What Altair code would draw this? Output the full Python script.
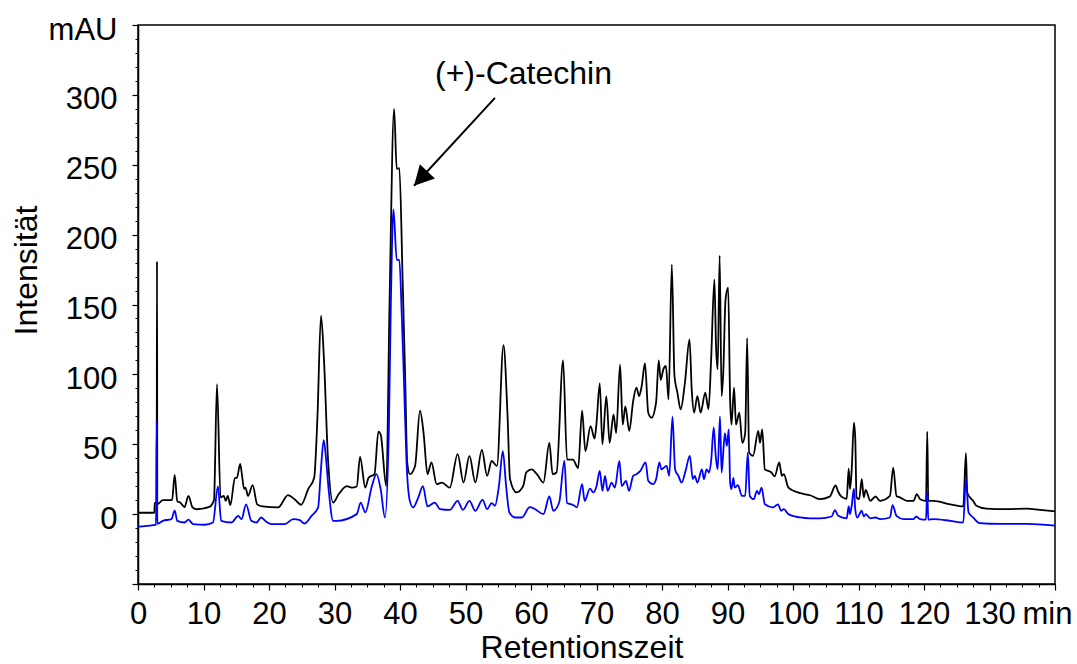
import altair as alt
import pandas as pd

# Chromatogram traces: retention time (min) and detector signal (mAU)
black_time = [
    0, 2.5, 2.55, 2.85, 2.9, 2.95, 3.8, 5.2, 5.6, 6.0, 6.4, 7.1, 7.7, 8.3, 8.9,
    10.9, 11.6, 12.06, 12.6, 13.1, 13.4, 13.7, 14.1, 14.8, 15.1, 15.6, 15.9,
    16.2, 16.4, 16.8, 17.5, 18.2, 19.0, 21.4, 22.9, 23.9, 24.9, 26.0, 26.9,
    27.4, 27.94, 28.4, 29.0, 29.8, 30.6, 31.9, 32.6, 33.4, 33.9, 34.7, 35.2,
    36.1, 36.7, 37.05, 37.9, 38.4, 39.1, 39.5, 39.9, 40.4, 40.8, 41.1, 41.5,
    42.3, 43.05, 43.6, 44.2, 44.8, 45.6, 46.4, 47.6, 48.8, 49.7, 50.6, 51.5,
    52.5, 53.3, 54.0, 54.8, 55.8, 56.4, 56.8, 57.8, 58.8, 59.3, 60.1, 60.9,
    61.9, 62.8, 63.3, 63.9, 64.9, 65.5, 66.4, 67.2, 67.8, 68.3, 69.1, 69.7,
    70.0, 70.5, 70.9, 71.5, 72.0, 72.6, 73.0, 73.6, 74.0, 74.4, 75.0, 75.6,
    76.1, 76.5, 76.9, 77.4, 77.9, 78.4, 79.1, 79.5, 79.8, 80.2, 80.6, 81.0,
    81.5, 81.9, 82.35, 82.85, 83.5, 84.2, 84.55, 84.9, 85.4, 85.9, 86.6, 87.1,
    87.5, 88.0, 88.25, 88.5, 88.8, 89.1, 89.35, 89.7, 90.1, 90.4, 90.6, 91.0,
    91.3, 91.8, 92.26, 92.7, 93.0, 93.3, 93.9, 94.7, 94.96, 95.3, 95.7, 96.7,
    97.2, 97.9, 98.3, 98.6, 99.3, 101.1, 102.6, 104.1, 105.6, 106.5, 106.9,
    107.4, 108.2, 108.5, 108.7, 108.96, 109.3, 109.5, 109.7, 110.1, 110.5,
    110.8, 111.1, 111.8, 112.6, 113.3, 114.8, 115.3, 115.8, 116.3, 117.4,
    118.4, 118.9, 119.4, 120.3, 120.5, 120.65, 121.4, 124.0, 126.0, 126.4,
    126.6, 127.0, 127.5, 128.0, 129.5, 132.6, 135.7, 137.7, 140,
]
black_mau = [
    1, 1, 8, 8, 181, 7, 10, 10, 28, 9, 8.5, 5, 13, 5, 3.5,
    5.2, 10, 93, 12, 13, 9.5, 13, 6.4, 26, 26, 36, 27,
    18, 19, 13, 20.7, 7, 5.5, 4.8, 13.6, 10.7, 6.7, 18, 26,
    70, 142, 110, 40, 8.3, 14, 20, 19, 19.8, 41, 19, 26,
    28.6, 59, 57, 20, 150, 290, 247, 247.6, 168, 96, 37, 28.6,
    34.5, 74, 58, 28.6, 37, 21.4, 22.6, 19, 43, 22.6, 41.7, 22.6,
    46, 27.4, 38, 34.5, 121, 72.6, 25, 15.5, 20, 30, 32, 28.6,
    22.6, 51, 28.6, 29.8, 110, 39, 39, 33, 74, 45, 63, 54,
    65, 93.6, 50, 84.5, 51, 71.4, 58, 107, 64, 77, 59.5, 81,
    90.5, 84.5, 91.7, 108, 72.6, 69, 80, 110, 96, 103.6, 106, 82,
    178.6, 99, 87, 75, 94, 125, 88, 72.6, 84.5, 72.6, 87, 75,
    110.7, 168, 120, 103.6, 185, 84.5, 101, 153.6, 162, 82, 64, 90.5,
    64, 72.6, 51, 58, 126, 44, 41.7, 59.5, 51, 60.7, 32, 29.8,
    27, 37, 27.4, 28.6, 19, 15, 13.5, 10.7, 12.5, 20.5, 16,
    12.5, 11, 32.6, 17.9, 31.7, 65.5, 54.8, 12, 10.7, 25,
    12, 17.4, 9.5, 12.6, 9.5, 13, 33.3, 13, 12, 9.5,
    9.5, 14.3, 10.7, 9.5, 59, 9.5, 9.5, 7, 5.5, 43.6,
    15.5, 12, 9.5, 6, 4, 3.6, 4, 3, 2,
]

blue_time = [
    0, 2.3, 2.75, 2.85, 2.95, 3.8, 5.1, 5.6, 6.0, 7.1, 7.7, 8.4, 10.2, 11.45,
    12.2, 12.7, 14.25, 15.3, 15.8, 16.5, 17.3, 18.1, 18.8, 19.6, 20.4, 22.4,
    23.7, 24.7, 25.4, 26.5, 27.5, 27.9, 28.35, 28.7, 29.1, 29.8, 30.3, 33.4,
    34.0, 34.7, 35.7, 36.4, 37.05, 37.7, 38.3, 38.6, 39.0, 39.5, 39.9, 40.26,
    40.6, 41.0, 41.5, 42.0, 42.8, 43.5, 44.2, 45.3, 46.1, 47.6, 48.8, 49.6,
    50.6, 51.5, 52.6, 53.3, 54.0, 54.5, 55.1, 55.7, 56.2, 56.7, 57.6, 58.6,
    59.8, 60.6, 61.9, 62.8, 63.4, 64.3, 65.1, 65.5, 66.5, 67.0, 67.8, 68.2,
    69.0, 69.5, 70.0, 70.5, 70.9, 71.3, 71.7, 72.3, 72.8, 73.5, 73.85, 74.5,
    74.96, 75.6, 76.1, 76.7, 77.5, 77.9, 78.6, 79.1, 79.6, 79.9, 80.7, 81.1,
    81.6, 82.0, 82.5, 83.0, 83.6, 84.25, 84.7, 85.0, 85.4, 86.1, 86.4, 86.8,
    87.2, 87.5, 87.9, 88.2, 88.5, 88.85, 89.1, 89.35, 89.6, 89.9, 90.2, 90.4,
    90.6, 90.9, 91.1, 91.6, 92.2, 92.7, 93.1, 93.4, 94.0, 94.5, 94.8, 95.2,
    95.7, 96.95, 97.7, 98.2, 98.6, 99.3, 101.1, 102.6, 104.1, 105.9, 106.4,
    106.9, 108.2, 108.5, 108.7, 108.96, 109.3, 109.5, 109.8, 110.5, 110.8,
    111.1, 111.8, 112.6, 113.3, 114.8, 115.2, 115.8, 116.9, 118.4, 118.8,
    119.4, 120.3, 120.5, 120.65, 121.4, 124.0, 126.0, 126.4, 126.8, 127.5,
    128.5, 131.6, 135.7, 140,
]
blue_mau = [
    -9, -7.9, -7.5, 67, -7, -4.8, -3.6, 2.4, -4.8, -6, -4, -7.1, -7.6, -6,
    19.8, -4.8, -6, -1.2, -3.6, 7, -4.8, -6, -2.4, -5.5, -7.1, -7.1,
    -3.6, -4.3, -6.7, -1.2, 4.8, 30, 53, 40, 17.9, -4.8, -4.8, 0,
    8.3, 1.2, 20, 28.6, 17.9, -2.4, 60, 150, 218, 182, 182, 144,
    96, 37, 9.5, 4.8, 12, 20, 5.5, 8.3, 3.6, 3, 9.5, 3,
    9.5, 2.4, 10.2, 3.6, 7.9, 6, 20, 45, 20, 1.2, -2.4, -2.4,
    5, 3.6, 0, 12.6, 2.4, 8.3, 38, 7.9, 6.4, 4.8, 21.4, 9.5,
    18.3, 15.5, 20, 31, 16.7, 27.4, 16.7, 22.6, 19, 38, 20, 23.8,
    16.7, 27.4, 28.6, 31, 37, 23.8, 21.4, 25, 37, 32, 34.5, 27.4,
    69.8, 32, 27.4, 22.6, 31, 41.7, 25, 27.4, 22.6, 32, 25, 32,
    29.8, 38, 62, 41.7, 32, 70, 29.8, 44, 58, 48.8, 60.7, 22.6,
    17.9, 26, 19, 20.7, 13, 13, 44, 13, 10.7, 16.7, 14.3, 19,
    7, 4.8, 7, 2.4, 3.6, 0, -2.4, -3, -3, -1.7, 2.9,
    -1.2, -3, 5.5, 0, 6, 18.3, 3.6, -2.4, 2.4, -1.7,
    0, -3, -2.4, -3.6, -2.4, 6.4, -1.2, -3.6, -3.6, -1.7,
    -3.6, -4, 16.7, -4, -3.6, -4.8, -6, 26, 1.2, -2.4,
    -6.4, -7, -7, -8.3,
]

# Axis ticks
x_major = list(range(0, 141, 10))
x_minor = [i * 2.5 for i in range(57)]
y_major = list(range(-50, 351, 50))
y_minor = list(range(-50, 351, 10))
x_domain = [0, 140]
y_domain = [-50, 350]

# Peak annotation
peak_label = "(+)-Catechin"
label_t, label_v = 58.85, 307.9
arrow_t0, arrow_v0 = 54.5, 297.9
arrow_t1, arrow_v1 = 42.14, 235.0

FONT = "Liberation Sans"

df_black = pd.DataFrame({"t": black_time, "v": black_mau})
df_blue = pd.DataFrame({"t": blue_time, "v": blue_mau})
df_label = pd.DataFrame({"t": [label_t], "v": [label_v], "text": [peak_label]})
df_arrow = pd.DataFrame({"t": [arrow_t0], "v": [arrow_v0], "t2": [arrow_t1], "v2": [arrow_v1]})

xs = alt.Scale(domain=x_domain, nice=False, zero=False)
ys = alt.Scale(domain=y_domain, nice=False, zero=False)

x_axis_major = alt.Axis(
    orient="bottom", values=x_major,
    labelExpr="datum.value == 140 ? 'min' : datum.label",
    labelOffset={"condition": {"test": "datum.value == 140", "value": -8}, "value": 0},
    tickSize=6, tickWidth=1.2, labelPadding=33.5, labelBaseline="alphabetic",
    labelFlush=False, labelOverlap=False, grid=False,
    title="Retentionszeit", titleX=443.5, titleY=73,
    titleAlign="center", titleBaseline="alphabetic",
)
y_axis_major = alt.Axis(
    orient="left", values=y_major,
    labelExpr="datum.value == 350 ? 'mAU' : (datum.value == -50 ? '' : datum.label)",
    tickSize=6, tickWidth=1.2, labelPadding=15, labelBaseline="alphabetic",
    labelOffset=14, labelOverlap=False, grid=False,
    title="Intensität", titleAngle=270, titleX=-102, titleY=245,
    titleAlign="center", titleBaseline="alphabetic",
)
x_axis_minor = alt.Axis(orient="bottom", values=x_minor, labels=False, domain=False,
                        tickSize=3, tickWidth=1, grid=False, title=None)
y_axis_minor = alt.Axis(orient="left", values=y_minor, labels=False, domain=False,
                        tickSize=3, tickWidth=1, grid=False, title=None)

black = alt.Chart(df_black).mark_line(
    color="black", strokeWidth=1.8, interpolate="monotone"
).encode(
    x=alt.X("t:Q", scale=xs, axis=x_axis_major),
    y=alt.Y("v:Q", scale=ys, axis=y_axis_major),
)
blue = alt.Chart(df_blue).mark_line(
    color="#0000ff", strokeWidth=1.8, interpolate="monotone"
).encode(
    x=alt.X("t:Q", scale=xs, axis=x_axis_minor),
    y=alt.Y("v:Q", scale=ys, axis=y_axis_minor),
)
arrow_line = alt.Chart(df_arrow).mark_rule(color="black", strokeWidth=2).encode(
    x=alt.X("t:Q", scale=xs, axis=None),
    y=alt.Y("v:Q", scale=ys, axis=None),
    x2="t2:Q",
    y2="v2:Q",
)
arrow_head = alt.Chart(df_arrow).mark_point(
    shape="M0,0L-2,-1.05L-2,1.05Z", size=384, angle=133,
    filled=True, color="black", opacity=1, strokeWidth=0,
).encode(
    x=alt.X("t2:Q", scale=xs, axis=None),
    y=alt.Y("v2:Q", scale=ys, axis=None),
)
label = alt.Chart(df_label).mark_text(
    font=FONT, fontSize=32, color="black", align="center", baseline="alphabetic",
).encode(
    x=alt.X("t:Q", scale=xs, axis=None),
    y=alt.Y("v:Q", scale=ys, axis=None),
    text="text:N",
)

chart = (
    alt.layer(black, blue, arrow_line, arrow_head, label)
    .resolve_axis(x="independent", y="independent")
    .properties(
        width=917, height=559,
        autosize=alt.AutoSizeParams(type="none"),
        padding={"left": 138, "top": 25, "right": 22, "bottom": 80},
        background="white",
    )
    .configure_view(stroke="black", strokeWidth=1.5)
    .configure_axis(
        domainColor="black", domainWidth=1.5, tickColor="black",
        labelFont=FONT, labelFontSize=31, labelColor="black",
        titleFont=FONT, titleFontSize=32, titleFontWeight="normal", titleColor="black",
    )
)

chart.save("out.html", embed_options={"renderer": "svg", "actions": False})
